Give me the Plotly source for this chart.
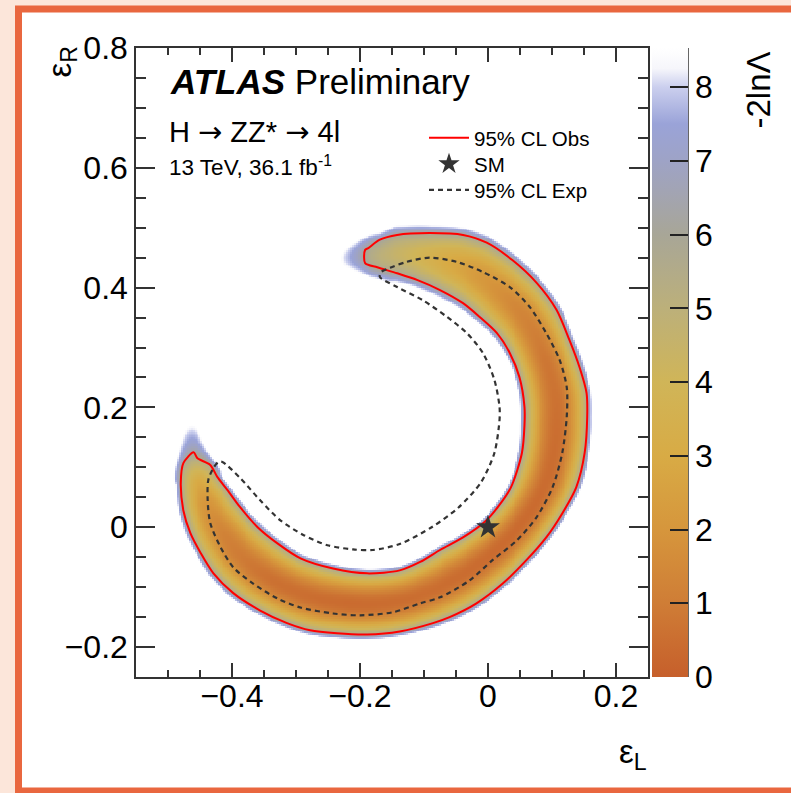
import numpy as np
import plotly.graph_objects as go

# ---------------- data ----------------
# 95% CL observed contour: outer edge (top tip -> lower-left tip, clockwise)
OBS_OUTER_X = [-0.192, -0.187, -0.169, -0.142, -0.091, -0.039, -0.002, 0.038, 0.076, 0.107,
               0.127, 0.143, 0.154, 0.155, 0.151, 0.138, 0.116, 0.091, 0.060, 0.023,
               -0.018, -0.060, -0.086, -0.138, -0.189, -0.236, -0.278, -0.314, -0.356, -0.398,
               -0.429, -0.449, -0.465, -0.476, -0.480, -0.476, -0.460]
OBS_OUTER_Y = [0.463, 0.466, 0.480, 0.488, 0.491, 0.488, 0.475, 0.446, 0.408, 0.363,
               0.313, 0.267, 0.224, 0.184, 0.124, 0.067, 0.023, -0.017, -0.055, -0.094,
               -0.127, -0.150, -0.160, -0.174, -0.179, -0.177, -0.172, -0.160, -0.139, -0.110,
               -0.077, -0.043, -0.010, 0.028, 0.074, 0.107, 0.125]
# inner edge (top tip -> lower-left tip, clockwise)
OBS_INNER_X = [-0.192, -0.173, -0.142, -0.111, -0.075, -0.039, -0.013, 0.014, 0.034, 0.049,
               0.057, 0.057, 0.053, 0.036, 0.017, -0.004, -0.039, -0.075, -0.106, -0.138,
               -0.189, -0.242, -0.293, -0.329, -0.360, -0.387, -0.407, -0.423, -0.434, -0.454]
OBS_INNER_Y = [0.441, 0.434, 0.424, 0.413, 0.396, 0.374, 0.351, 0.324, 0.291, 0.251,
               0.201, 0.170, 0.124, 0.067, 0.036, 0.010, -0.017, -0.038, -0.058, -0.072,
               -0.077, -0.069, -0.052, -0.027, 0.000, 0.033, 0.062, 0.084, 0.104, 0.115]
# 95% CL expected contour (closed loop)
EXP_X = [-0.167, -0.153, -0.127, -0.091, -0.049, -0.008, 0.034, 0.065, 0.091, 0.112,
         0.123, 0.123, 0.116, 0.101, 0.076, 0.045, 0.007, -0.029, -0.075, -0.106,
         -0.149, -0.200, -0.242, -0.293, -0.329, -0.367, -0.398, -0.418, -0.434, -0.438,
         -0.437, -0.429, -0.421, -0.415, -0.387, -0.356, -0.325, -0.290, -0.251, -0.211,
         -0.180, -0.138, -0.088, -0.046, -0.011, 0.010, 0.018, 0.018, 0.010, -0.008,
         -0.033, -0.064, -0.102, -0.142, -0.169]
EXP_Y = [0.426, 0.433, 0.443, 0.450, 0.443, 0.426, 0.401, 0.368, 0.324, 0.279,
         0.234, 0.184, 0.124, 0.067, 0.017, -0.022, -0.055, -0.089, -0.117, -0.127,
         -0.142, -0.147, -0.144, -0.134, -0.119, -0.094, -0.067, -0.033, 0.007, 0.045,
         0.079, 0.099, 0.109, 0.109, 0.082, 0.045, 0.012, -0.012, -0.030, -0.037,
         -0.038, -0.028, 0.000, 0.033, 0.075, 0.124, 0.179, 0.201, 0.246, 0.291,
         0.324, 0.351, 0.379, 0.401, 0.418]
SM_X = [0.0]
SM_Y = [0.0]
# centre of the ring and minimum of -2lnL along the ring (angle phi measured clockwise from the top)
RING_CENTER = (-0.168, 0.160)
PROFILE_PHI = [-8, -5, 0, 3, 5, 7, 10, 15, 22, 30, 40, 55, 75, 100, 125, 150, 175, 200,
               225, 245, 257, 264, 268, 271, 273, 276, 280, 284, 288]
PROFILE_MIN = [9.0, 8.3, 7.3, 6.6, 6.0, 5.5, 5.0, 4.5, 3.8, 3.0, 2.2, 1.4, 0.8, 0.5, 0.4, 0.4, 0.5, 0.4,
               0.6, 1.2, 2.0, 3.0, 4.2, 5.4, 6.1, 6.8, 7.4, 8.2, 9.0]
# lowest curvature of the profile across the ring (tips)
CURV_PHI = [-8, 140, 288]
CURV_MIN = [1.2, 2.0, 2.6]
CL95 = 5.99
Z_MAX = 8.53
CBAR_TICKS = [0, 1, 2, 3, 4, 5, 6, 7, 8]
X_TICKS = [-0.4, -0.2, 0, 0.2]
Y_TICKS = [-0.2, 0, 0.2, 0.4, 0.6, 0.8]

# ---------------- build the -2lnL map ----------------
cx, cy = RING_CENTER


def polar(x, y):
    dx = np.asarray(x, float) - cx
    dy = np.asarray(y, float) - cy
    r = np.hypot(dx, dy)
    th = np.degrees(np.arctan2(dy, dx))
    phi = (100.0 - th) % 360.0
    phi = np.where(phi > 320, phi - 360, phi)
    return r, phi


def edge(xs, ys):
    r, p = polar(xs, ys)
    m = (p >= 9) & (p <= 266)
    o = np.argsort(p[m])
    return p[m][o], r[m][o]


p_in, r_in = edge(OBS_INNER_X, OBS_INNER_Y)
p_out, r_out = edge(OBS_OUTER_X, OBS_OUTER_Y)

gx = np.arange(-0.55, 0.2501, 0.003)
gy = np.arange(-0.25, 0.8001, 0.003)
GX, GY = np.meshgrid(gx, gy)
R, P = polar(GX, GY)
RIN = np.interp(P, p_in, r_in)
ROUT = np.interp(P, p_out, r_out)
RMID = 0.5 * (RIN + ROUT)
HW = 0.5 * (ROUT - RIN)
VMIN = np.interp(P, PROFILE_PHI, PROFILE_MIN)
A = np.maximum(CL95 - VMIN, np.interp(P, CURV_PHI, CURV_MIN))
Z = VMIN + A * ((R - RMID) / HW) ** 2
Z = np.where(Z > CL95, CL95 + 1.4 * (Z - CL95), Z)
Z[Z > Z_MAX] = np.nan

# colours read from the palette
stops = [(0.0, "#c65f2b"), (1.0, "#cf7d36"), (2.0, "#d6963c"), (3.0, "#d8ab45"),
         (4.0, "#d0b558"), (5.0, "#bcb07a"), (6.0, "#a8a697"), (6.6, "#a2a4b4"),
         (7.0, "#9ea3c6"), (7.5, "#9aa3d8"), (8.0, "#cbcfee"), (8.25, "#f6f6fb"),
         (Z_MAX, "#ffffff")]
colorscale = [[v / Z_MAX, c] for v, c in stops]

FONT = "Liberation Sans, Arial, Helvetica, sans-serif"
ARROW = '<span style="font-family:DejaVu Sans">\u2192</span>'

# plot-area geometry in pixels
W, H = 791, 793
L, R_, T, B = 136, 143, 48, 116
PW = W - L - R_
PH = H - T - B


def px(xp):
    return (xp - L) / PW


def py(yp):
    return (H - B - yp) / PH


fig = go.Figure()
fig.add_trace(go.Heatmap(
    x=gx, y=gy, z=Z, zmin=0, zmax=Z_MAX, colorscale=colorscale, zsmooth=False,
    showlegend=False, hoverinfo="skip",
    colorbar=dict(x=px(652), xanchor="left", y=0.5, yanchor="middle", len=1, lenmode="fraction",
                  thickness=36, thicknessmode="pixels", outlinewidth=0, xpad=0, ypad=0,
                  tickvals=CBAR_TICKS, ticks="inside", ticklen=18, tickwidth=1.5, tickcolor="#222",
                  tickfont=dict(size=32, family=FONT, color="black")),
))

obs_x = OBS_OUTER_X + OBS_INNER_X[::-1] + OBS_OUTER_X[:1]
obs_y = OBS_OUTER_Y + OBS_INNER_Y[::-1] + OBS_OUTER_Y[:1]
fig.add_trace(go.Scatter(x=obs_x, y=obs_y, mode="lines", name="95% CL Obs", legend="legend",
                         showlegend=True,
                         line=dict(color="#ff0000", width=2, shape="spline", smoothing=0.8),
                         hoverinfo="skip"))
fig.add_trace(go.Scatter(x=SM_X, y=SM_Y, mode="markers", name="SM", legend="legend2", showlegend=True,
                         marker=dict(symbol="star", size=18, color="#333333", line=dict(width=0))))
fig.add_trace(go.Scatter(x=EXP_X + EXP_X[:1], y=EXP_Y + EXP_Y[:1], mode="lines", name="95% CL Exp",
                         legend="legend3", showlegend=True,
                         line=dict(color="#333333", width=2.2, dash="5px,4px", shape="spline", smoothing=0.8),
                         hoverinfo="skip"))

axis_common = dict(showline=True, linecolor="#333333", linewidth=1.5, mirror="ticks",
                   ticks="inside", tickcolor="#333333", tickwidth=1.5, showgrid=False, zeroline=False,
                   tickfont=dict(size=32, family=FONT, color="black"))
fig.update_xaxes(range=[-0.55, 0.25], tickvals=X_TICKS, ticklen=14,
                 minor=dict(dtick=0.05, tick0=0, ticklen=7, ticks="inside", tickcolor="#333333", tickwidth=1.5,
                            showgrid=False),
                 ticklabelstandoff=-10, **axis_common)
fig.update_yaxes(range=[-0.25, 0.8], tickvals=Y_TICKS, ticklen=19,
                 minor=dict(dtick=0.05, tick0=0, ticklen=10, ticks="inside", tickcolor="#333333", tickwidth=1.5,
                            showgrid=False),
                 ticklabelstandoff=0, **axis_common)

leg = dict(xanchor="left", yanchor="middle", bgcolor="rgba(0,0,0,0)", borderwidth=0,
           font=dict(size=20.5, family=FONT, color="black"), itemwidth=40)

fig.update_layout(
    width=W, height=H, margin=dict(l=L, r=R_, t=T, b=B),
    paper_bgcolor="#fce6da", plot_bgcolor="rgba(0,0,0,0)",
    font=dict(family=FONT, color="black"),
    showlegend=True,
    legend=dict(x=px(424), y=py(138), **leg),
    legend2=dict(x=px(424), y=py(164), **leg),
    legend3=dict(x=px(424), y=py(190), **leg),
    shapes=[
        dict(type="rect", xref="paper", yref="paper", x0=px(18.5), x1=px(805), y0=py(791), y1=py(9),
             line=dict(color="#e9673f", width=7), fillcolor="white", layer="below"),
        dict(type="line", xref="paper", yref="paper", x0=px(688), x1=px(688), y0=0, y1=1,
             line=dict(color="#333333", width=1.5)),
    ],
    annotations=[
        dict(text="<b><i>ATLAS</i></b> Preliminary", x=px(168), y=py(81), xref="paper", yref="paper",
             xanchor="left", yanchor="middle", showarrow=False, font=dict(size=35, family=FONT)),
        dict(text="H " + ARROW + " ZZ* " + ARROW + " 4l", x=px(167), y=py(132), xref="paper", yref="paper",
             xanchor="left", yanchor="middle", showarrow=False, font=dict(size=29, family=FONT)),
        dict(text="13 TeV, 36.1 fb<sup>-1</sup>", x=px(167), y=py(166), xref="paper", yref="paper",
             xanchor="left", yanchor="middle", showarrow=False, font=dict(size=22.5, family=FONT)),
        dict(text="-2ln\u039b", x=px(758), y=py(50), xref="paper", yref="paper", textangle=-90,
             xanchor="center", yanchor="top", showarrow=False, font=dict(size=33, family=FONT)),
        dict(text="\u03b5<sub>R</sub>", x=px(61), y=py(45), xref="paper", yref="paper", textangle=-90,
             xanchor="center", yanchor="top", showarrow=False, font=dict(size=33, family=FONT)),
        dict(text="\u03b5<sub>L</sub>", x=px(649), y=py(754), xref="paper", yref="paper",
             xanchor="right", yanchor="middle", showarrow=False, font=dict(size=33, family=FONT)),
    ],
)

fig.write_html("out.html")
